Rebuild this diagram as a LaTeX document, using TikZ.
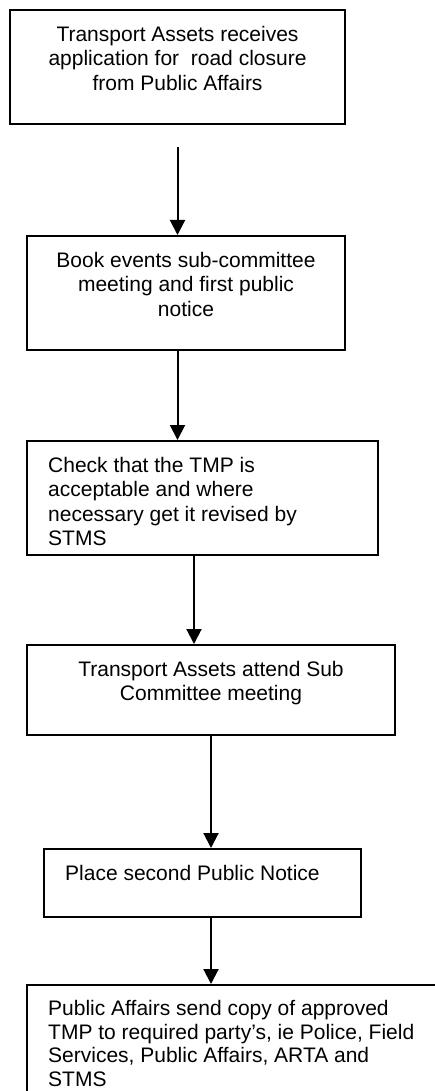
\documentclass[tikz,border=0pt]{standalone}
\usepackage{fontspec}
\setmainfont{Liberation Sans}
\usetikzlibrary{arrows.meta}

\begin{document}
\begin{tikzpicture}[x = 1pt, y = -1pt]
	\tikzstyle{BoxStyle} = [draw, line width = 2pt, inner sep = 0pt, anchor = north west]
	\tikzstyle{TextStyle} = [inner sep = 0pt, font = \fontsize{21}{24.5}\selectfont]
	\tikzstyle{EdgeStyle} = [line width = 2pt, -{Triangle[width = 15pt, length = 15pt]}]
	\useasboundingbox (0,0) rectangle (434,1091);
	\node[BoxStyle, minimum width = 335pt, minimum height = 114pt] (b1) at (9,9) {};
	\node[BoxStyle, minimum width = 318pt, minimum height = 114pt] (b2) at (26,235) {};
	\node[BoxStyle, minimum width = 351pt, minimum height = 114pt] (b3) at (26,440) {};
	\node[BoxStyle, minimum width = 368pt, minimum height = 90pt] (b4) at (26,644) {};
	\node[BoxStyle, minimum width = 317pt, minimum height = 68pt] (b5) at (43,848) {};
	\node[BoxStyle, minimum width = 460pt, minimum height = 130pt] (b6) at (26,984) {};
	\node[TextStyle, anchor = north, align = center] (t1) at ([yshift = -17pt]b1.north) {Transport Assets receives\\application for\ \ road closure\\from Public Affairs};
	\node[TextStyle, anchor = north, align = center] (t2) at ([yshift = -17pt]b2.north) {Book events sub-committee\\meeting and first public\\notice};
	\node[TextStyle, anchor = north west, align = left] (t3) at ([xshift = 22pt, yshift = -17pt]b3.north west) {Check that the TMP is\\acceptable and where\\necessary get it revised by\\STMS};
	\node[TextStyle, anchor = north, align = center] (t4) at ([yshift = -17pt]b4.north) {Transport Assets attend Sub\\Committee meeting};
	\node[TextStyle, anchor = north west, align = left] (t5) at ([xshift = 22pt, yshift = -17pt]b5.north west) {Place second Public Notice};
	\node[TextStyle, anchor = north west, align = left, font = \fontsize{21}{23.7}\selectfont] (t6) at ([xshift = 22pt, yshift = -16pt]b6.north west) {Public Affairs send copy of approved\\TMP to required party’s, ie Police, Field\\Services, Public Affairs, ARTA and\\STMS};
	\coordinate (c3) at ([xshift = -8.5pt]b3.south);
	\draw[EdgeStyle] ([yshift = -22pt]b1.south) -- (b1.south |- b2.north);
	\draw[EdgeStyle] (b1.south |- b2.south) -- (b1.south |- b3.north);
	\draw[EdgeStyle] (c3) -- (c3 |- b4.north);
	\draw[EdgeStyle] (b4.south) -- (b4.south |- b5.north);
	\draw[EdgeStyle] (b4.south |- b5.south) -- (b4.south |- b6.north);
\end{tikzpicture}
\end{document}
